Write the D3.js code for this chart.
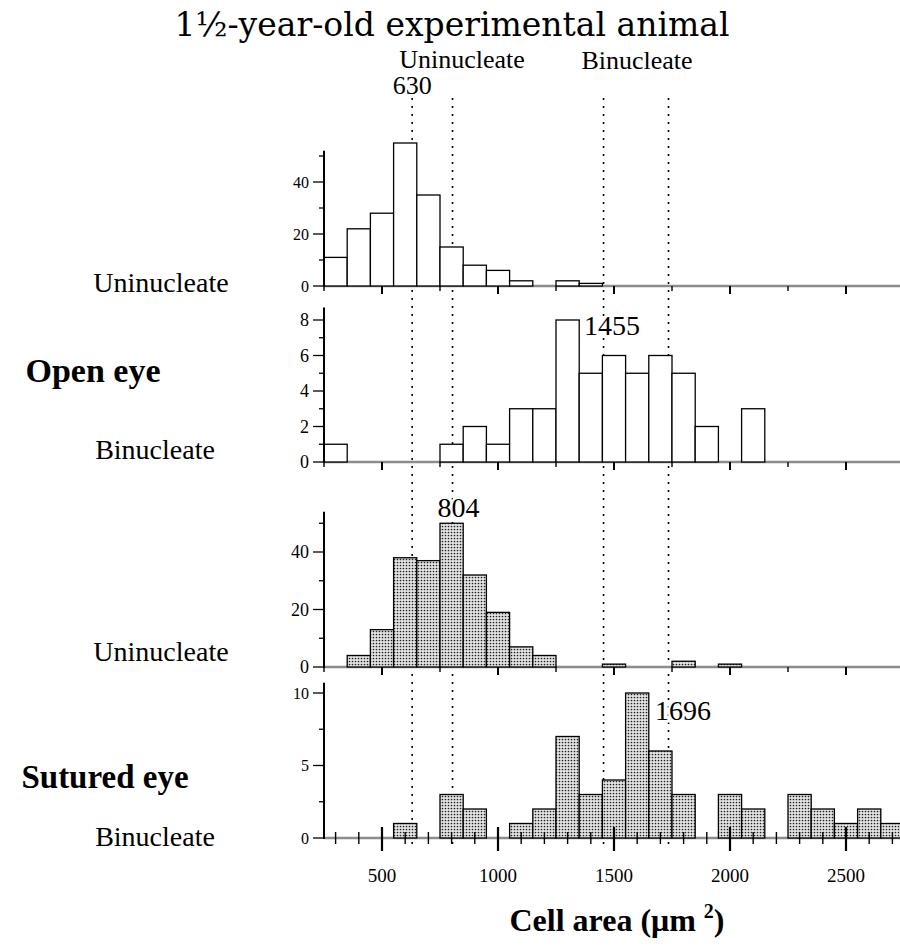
<!DOCTYPE html>
<html><head><meta charset="utf-8">
<script src="https://cdn.jsdelivr.net/npm/d3@7"></script>
<style>body{margin:0;background:#fff} svg{display:block}</style>
</head><body><svg id="c" width="900" height="947"></svg>
<script>
// ---- data ----
const binCenters = [300,400,500,600,700,800,900,1000,1100,1200,1300,1400,1500,1600,1700,1800,1900,2000,2100,2200,2300,2400,2500,2600,2700];
const openUninucleate = [11,22,28,55,35,15,8,6,2,0,2,1,0,0,0,0,0,0,0,0,0,0,0,0,0];
const openBinucleate  = [1,0,0,0,0,1,2,1,3,3,8,5,6,5,6,5,2,0,3,0,0,0,0,0,0];
const suturedUninucleate = [0,4,13,38,37,50,32,19,7,4,0,0,1,0,0,2,0,1,0,0,0,0,0,0,0];
const suturedBinucleate  = [0,0,0,1,0,3,2,0,1,2,7,3,4,10,6,3,0,3,2,0,3,2,1,2,1];
const meanLinePositions = [630, 804, 1455, 1735];
const meanLabels = ["630", "804", "1455", "1696"];
const xTickLabels = [500, 1000, 1500, 2000, 2500];
const binWidth = 100;

// ---- drawing ----
const svg = d3.select("#c");
const x = d3.scaleLinear().domain([250, 2750]).range([324, 904]);
const serif = "'Liberation Serif','Times New Roman',serif";

const defs = svg.append("defs");
const pat = defs.append("pattern").attr("id","stip").attr("patternUnits","userSpaceOnUse")
  .attr("width",3).attr("height",3);
pat.append("rect").attr("width",3).attr("height",3).attr("fill","#e4e4e4");
pat.append("circle").attr("cx",1.5).attr("cy",1.5).attr("r",0.85).attr("fill","#222");

const panels = [
  {data: openUninucleate, zero: 286, max: 52, ticks: d3.range(0, 51, 10), labeled: [0,20,40], fill: "#fff", fs: 16},
  {data: openBinucleate, zero: 462, max: 8.7, ticks: d3.range(0, 9, 1), labeled: [0,2,4,6,8], fill: "#fff", fs: 18},
  {data: suturedUninucleate, zero: 667, max: 54, ticks: d3.range(0, 51, 10), labeled: [0,20,40], fill: "url(#stip)", fs: 18},
  {data: suturedBinucleate, zero: 838, max: 10.7, ticks: [0,2.5,5,7.5,10], labeled: [0,5,10], fill: "url(#stip)", fs: 16, bottom: true}
];
const pxPer = [2.6, 17.75, 2.875, 14.5];
panels.forEach((p, i) => {
  p.y = d3.scaleLinear().domain([0, p.max]).range([p.zero, p.zero - p.max * pxPer[i]]);
});

// title & headers
svg.append("text").attr("x", 452).attr("y", 36).attr("text-anchor","middle")
  .attr("font-family","'DejaVu Serif',serif").attr("font-size",33).text("1½-year-old experimental animal");
svg.append("text").attr("x", 462).attr("y", 68).attr("text-anchor","middle")
  .attr("font-family",serif).attr("font-size",26).text("Uninucleate");
svg.append("text").attr("x", 637).attr("y", 69).attr("text-anchor","middle")
  .attr("font-family",serif).attr("font-size",26).text("Binucleate");

// mean dotted lines
const lineTop = [98, 98, 98, 98];
meanLinePositions.forEach((v, i) => {
  svg.append("line").attr("x1", x(v)).attr("x2", x(v)).attr("y1", lineTop[i]).attr("y2", 850)
    .attr("stroke","#000").attr("stroke-width",1.6).attr("stroke-dasharray","2,6");
});

panels.forEach((p, i) => {
  const g = svg.append("g");
  // baseline
  g.append("line").attr("x1", x(250)).attr("x2", 904).attr("y1", p.zero).attr("y2", p.zero)
    .attr("stroke","#8c8c8c").attr("stroke-width",2.6);
  // bars
  g.selectAll("rect.bar").data(binCenters.map((c, k) => ({c, v: p.data[k]})).filter(d => d.v > 0))
    .enter().append("rect")
    .attr("x", d => x(d.c - binWidth/2))
    .attr("width", d => x(d.c + binWidth/2) - x(d.c - binWidth/2))
    .attr("y", d => p.y(d.v))
    .attr("height", d => p.zero - p.y(d.v))
    .attr("fill", p.fill).attr("stroke","#000").attr("stroke-width",1.3);
  // y axis
  g.append("line").attr("x1", 324).attr("x2", 324).attr("y1", p.zero + 1).attr("y2", p.y(p.max))
    .attr("stroke","#000").attr("stroke-width",2);
  p.ticks.forEach(t => {
    const lab = p.labeled.includes(t);
    g.append("line").attr("x1", 324).attr("x2", lab ? 313 : 319).attr("y1", p.y(t)).attr("y2", p.y(t))
      .attr("stroke","#000").attr("stroke-width",1.3);
  });
  p.labeled.forEach(t => {
    g.append("text").attr("x", 309).attr("y", p.y(t)).attr("dy","0.35em").attr("text-anchor","end")
      .attr("font-family",serif).attr("font-size",p.fs).text(t);
  });
  // x ticks
  if (!p.bottom) {
    d3.range(250, 2751, 250).forEach(t => {
      const major = t % 500 === 0;
      g.append("line").attr("x1", x(t)).attr("x2", x(t)).attr("y1", p.zero).attr("y2", p.zero + (major ? 8 : 5))
        .attr("stroke","#000").attr("stroke-width", major ? 2 : 1.4);
    });
  } else {
    binCenters.forEach(t => {
      const major = t % 500 === 0;
      g.append("line").attr("x1", x(t)).attr("x2", x(t))
        .attr("y1", p.zero - (major ? 11 : 6)).attr("y2", p.zero + (major ? 13 : 6))
        .attr("stroke","#000").attr("stroke-width", major ? 2.2 : 1.4);
    });
    xTickLabels.forEach(t => {
      g.append("text").attr("x", x(t)).attr("y", p.zero + 44).attr("text-anchor","middle")
        .attr("font-family",serif).attr("font-size",19).text(t);
    });
  }
});

// mean labels (with white halo)
const labelPos = [
  {x: x(630), y: 94, a: "middle"},
  {x: x(804) + 6, y: 517, a: "middle"},
  {x: 584, y: 335, a: "start"},
  {x: 655, y: 720, a: "start"}
];
meanLabels.forEach((t, i) => {
  svg.append("text").attr("x", labelPos[i].x).attr("y", labelPos[i].y).attr("text-anchor", labelPos[i].a)
    .attr("font-family",serif).attr("font-size", i === 0 ? 26 : 28)
    .attr("stroke","#fff").attr("stroke-width",5).attr("paint-order","stroke").attr("fill","#000").text(t);
});

// row labels
const rowLab = (t, cx, cy, size, bold) => svg.append("text").attr("x", cx).attr("y", cy).attr("text-anchor","middle")
  .attr("font-family",serif).attr("font-size",size).attr("font-weight", bold ? "bold" : "normal").text(t);
rowLab("Uninucleate", 161, 292, 28);
rowLab("Open eye", 93, 382, 34, true);
rowLab("Binucleate", 155, 459, 28);
rowLab("Uninucleate", 161, 661, 28);
rowLab("Sutured eye", 105, 788, 33, true);
rowLab("Binucleate", 155, 846, 28);

// x-axis title
const xt = svg.append("text").attr("x", 617).attr("y", 931).attr("text-anchor","middle")
  .attr("font-family",serif).attr("font-size",32).attr("font-weight","bold");
xt.append("tspan").text("Cell area (μm ");
xt.append("tspan").attr("dy",-13).attr("font-size",20).text("2");
xt.append("tspan").attr("dy",13).text(")");
</script></body></html>
